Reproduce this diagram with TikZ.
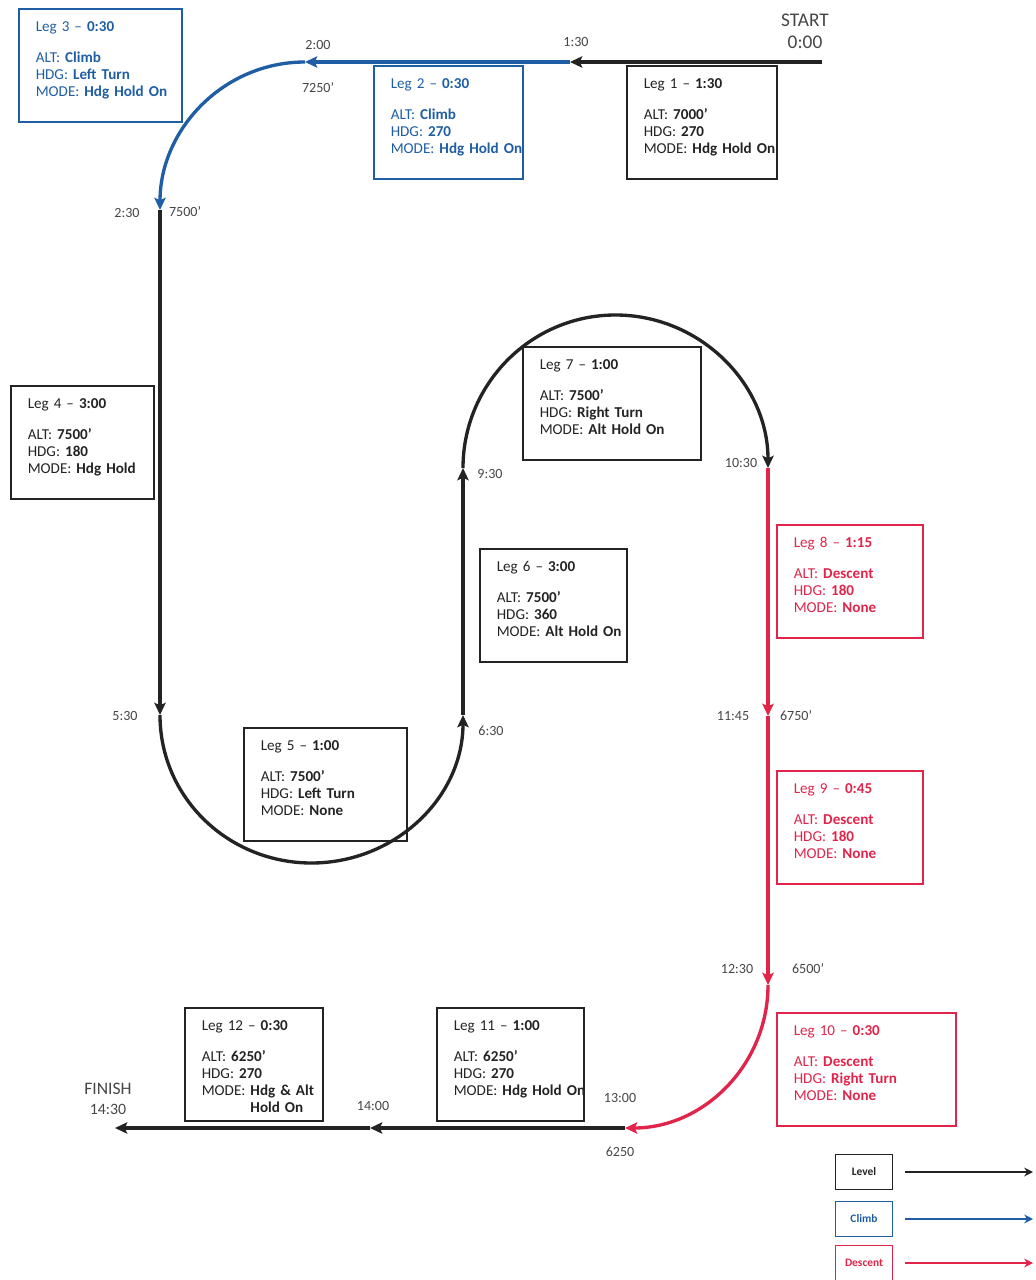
\documentclass[tikz,border=0pt]{standalone}
\usepackage{fontspec}
\setmainfont{Carlito}
\usepackage{xcolor}
\usetikzlibrary{arrows.meta}
\definecolor{climbblue}{RGB}{31,94,164}
\definecolor{descentred}{RGB}{224,36,74}
\definecolor{levelblack}{RGB}{35,35,35}
\definecolor{labelgray}{RGB}{70,70,70}
\newcommand{\legfont}{\fontsize{8.6}{9.7}\selectfont}

\begin{document}
\begin{tikzpicture}[
    x=0.02cm, y=0.02cm,
    >={Stealth[length=7pt,width=6.5pt,inset=1.5pt]},
    level/.style={->, line width=1.9pt, levelblack},
    climb/.style={->, line width=1.9pt, climbblue},
    descent/.style={->, line width=1.9pt, descentred},
    leg/.style={draw=#1, text=#1, line width=0.9pt, anchor=north west, align=left,
                inner xsep=0.34cm, inner ysep=0.2cm, text height=0.25cm, text depth=1.61cm,
                font=\legfont},
    leg/.default=levelblack,
    stamp/.style={text=labelgray, font=\fontsize{8}{9}\selectfont, inner sep=1pt},
    key/.style={draw=#1, text=#1, line width=0.9pt, minimum width=1.14cm, minimum height=0.7cm,
                font=\fontsize{6.5}{7}\selectfont\bfseries},
    keyline/.style={->, line width=1.2pt, #1, >={Stealth[length=5pt,width=5pt]}}
  ]
\useasboundingbox (0,0) rectangle (1035,-1280);

% waypoints
\coordinate (p0) at (822,-62);
\coordinate (p1) at (570,-62);
\coordinate (p2) at (305,-62);
\coordinate (p3) at (160,-210);
\coordinate (p4) at (160,-715);
\coordinate (low5) at (311.5,-863);
\coordinate (p5) at (463,-715);
\coordinate (p6) at (463,-468);
\coordinate (top7) at (615.5,-315);
\coordinate (p7) at (768,-468);
\coordinate (p8) at (768,-716);
\coordinate (p9) at (768,-985);
\coordinate (p10) at (625,-1128);
\coordinate (p11) at (370,-1128);
\coordinate (p12) at (115,-1128);

% legs
\draw[level] (p0) -- (p1);
\draw[climb] (p1) -- (p2);
\draw[climb] (p2) to[out=180,in=90] (p3);
\draw[level] (p3) -- (p4);
\draw[level] (p4) to[out=-90,in=180] (low5) to[out=0,in=-90] (p5);
\draw[level] (p5) -- (p6);
\draw[level] (p6) to[out=90,in=180] (top7) to[out=0,in=90] (p7);
\draw[descent] (p7) -- (p8);
\draw[descent] (p8) -- (p9);
\draw[descent] (p9) to[out=-90,in=0] (p10);
\draw[level] (p10) -- (p11);
\draw[level] (p11) -- (p12);

% leg boxes
\node[leg, text width=2.32cm] (leg1) at (626,-65)
  {Leg 1 -- \textbf{1:30}\\[8pt] ALT: \textbf{7000'}\\ HDG: \textbf{270}\\ MODE:~\textbf{Hdg~Hold~On}};
\node[leg=climbblue, text width=2.30cm] (leg2) at (373,-65)
  {Leg 2 -- \textbf{0:30}\\[8pt] ALT: \textbf{Climb}\\ HDG: \textbf{270}\\ MODE:~\textbf{Hdg~Hold~On}};
\node[leg=climbblue, text width=2.58cm] (leg3) at (18,-8)
  {Leg 3 -- \textbf{0:30}\\[8pt] ALT: \textbf{Climb}\\ HDG: \textbf{Left~Turn}\\ MODE:~\textbf{Hdg~Hold~On}};
\node[leg, text width=2.18cm] (leg4) at (10,-385)
  {Leg 4 -- \textbf{3:00}\\[8pt] ALT: \textbf{7500'}\\ HDG: \textbf{180}\\ MODE:~\textbf{Hdg~Hold}};
\node[leg, text width=2.58cm] (leg5) at (243,-727)
  {Leg 5 -- \textbf{1:00}\\[8pt] ALT: \textbf{7500'}\\ HDG: \textbf{Left~Turn}\\ MODE:~\textbf{None}};
\node[leg, text width=2.26cm] (leg6) at (479,-548)
  {Leg 6 -- \textbf{3:00}\\[8pt] ALT: \textbf{7500'}\\ HDG: \textbf{360}\\ MODE:~\textbf{Alt~Hold~On}};
\node[leg, text width=2.88cm] (leg7) at (522,-346)
  {Leg 7 -- \textbf{1:00}\\[8pt] ALT: \textbf{7500'}\\ HDG: \textbf{Right~Turn}\\ MODE:~\textbf{Alt~Hold~On}};
\node[leg=descentred, text width=2.24cm] (leg8) at (776,-524)
  {Leg 8 -- \textbf{1:15}\\[8pt] ALT: \textbf{Descent}\\ HDG: \textbf{180}\\ MODE:~\textbf{None}};
\node[leg=descentred, text width=2.24cm] (leg9) at (776,-770)
  {Leg 9 -- \textbf{0:45}\\[8pt] ALT: \textbf{Descent}\\ HDG: \textbf{180}\\ MODE:~\textbf{None}};
\node[leg=descentred, text width=2.90cm] (leg10) at (776,-1012)
  {Leg 10 -- \textbf{0:30}\\[8pt] ALT: \textbf{Descent}\\ HDG: \textbf{Right~Turn}\\ MODE:~\textbf{None}};
\node[leg, text width=2.26cm] (leg11) at (436,-1007)
  {Leg 11 -- \textbf{1:00}\\[8pt] ALT: \textbf{6250'}\\ HDG: \textbf{270}\\ MODE:~\textbf{Hdg~Hold~On}};
\node[leg, text width=2.08cm] (leg12) at (184,-1007)
  {Leg 12 -- \textbf{0:30}\\[8pt] ALT: \textbf{6250'}\\ HDG: \textbf{270}\\ MODE:~\textbf{Hdg~\&~Alt}\\ \hphantom{MODE:~}\textbf{Hold~On}};

% times and altitudes
\node[text=labelgray, align=center, font=\fontsize{11}{12.5}\selectfont] (start) at (805,-31) {START\\0:00};
\node[stamp] (t130) at (576,-42) {1:30};
\node[stamp] (t200) at (318,-45) {2:00};
\node[stamp] (a7250) at (318,-88) {7250'};
\node[stamp] (t230) at (127,-213) {2:30};
\node[stamp] (a7500) at (185,-212) {7500'};
\node[stamp] (t530) at (125,-716) {5:30};
\node[stamp] (t630) at (491,-731) {6:30};
\node[stamp] (t930) at (490,-474) {9:30};
\node[stamp] (t1030) at (741,-463) {10:30};
\node[stamp] (t1145) at (733,-716) {11:45};
\node[stamp] (a6750) at (796,-716) {6750'};
\node[stamp] (t1230) at (737,-969) {12:30};
\node[stamp] (a6500) at (808,-969) {6500'};
\node[stamp] (t1300) at (620,-1098) {13:00};
\node[stamp] (a6250) at (620,-1152) {6250};
\node[stamp] (t1400) at (373,-1106) {14:00};
\node[text=labelgray, align=center, font=\fontsize{10}{11}\selectfont] (finish) at (108,-1099)
  {FINISH\\{\fontsize{9}{10}\selectfont 14:30}};

% legend
\node[key=levelblack] (klevel) at (864,-1172) {Level};
\node[key=climbblue] (kclimb) at (864,-1219) {Climb};
\node[key=descentred] (kdescent) at (864,-1263) {Descent};
\coordinate (elevel) at (1033,-1172);
\coordinate (eclimb) at (1033,-1219);
\coordinate (edescent) at (1033,-1263);
\draw[keyline=levelblack] ([xshift=0.24cm]klevel.east) -- (elevel);
\draw[keyline=climbblue] ([xshift=0.24cm]kclimb.east) -- (eclimb);
\draw[keyline=descentred] ([xshift=0.24cm]kdescent.east) -- (edescent);
\end{tikzpicture}
\end{document}
